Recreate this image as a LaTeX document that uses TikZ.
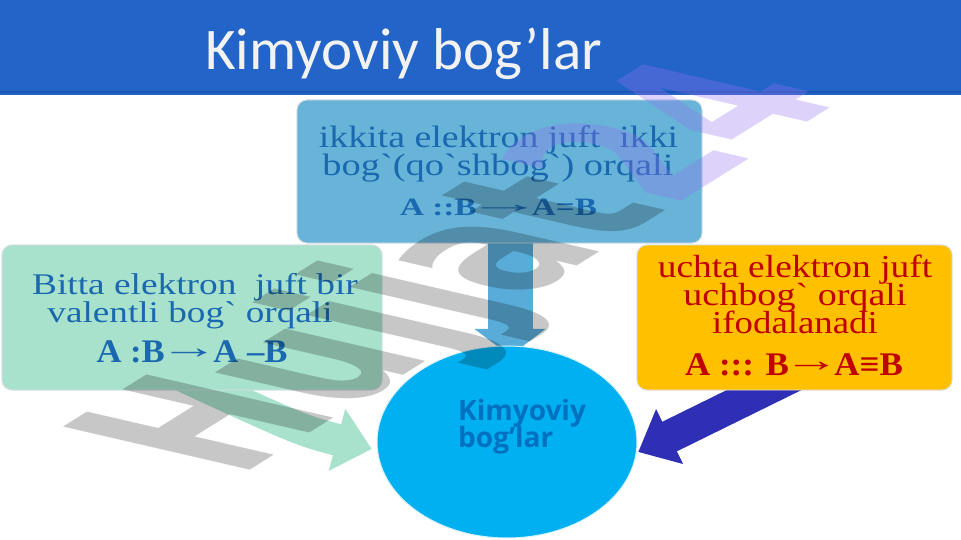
\documentclass[tikz,border=0pt]{standalone}
\usepackage{fontspec}
\usepackage{graphicx}
\usetikzlibrary{arrows.meta,shapes.geometric}
\newfontfamily\serif{Liberation Serif}
\newfontfamily\titlefont{Carlito}
\newfontfamily\osans{Open Sans}
\newfontfamily\wmfont{DejaVu Sans}
\newcommand\rarr[2]{\kern-#2em\raisebox{0.1em}{\scalebox{#1}[1]{→}}\kern-#2em}
\definecolor{hdr}{HTML}{2264C8}
\definecolor{hdrline}{HTML}{1B56B2}
\definecolor{titletext}{HTML}{F2F2F2}
\definecolor{topfill}{HTML}{68B4D8}
\definecolor{leftfill}{HTML}{A8E2CD}
\definecolor{rightfill}{HTML}{FFC000}
\definecolor{circfill}{HTML}{00B0F0}
\definecolor{arrblue}{HTML}{5AACD8}
\definecolor{arrgreen}{HTML}{A8E2CD}
\definecolor{arrdark}{HTML}{2F2FB5}
\definecolor{txtblue}{HTML}{1A68B0}
\definecolor{txtred}{HTML}{C00000}
\definecolor{circtext}{HTML}{0070C0}
\definecolor{boxedge}{HTML}{D8DEE4}
\definecolor{wmpurple}{HTML}{9272EF}
\tikzset{
  box/.style={rectangle, rounded corners=10pt, draw=boxedge, line width=0.8pt, inner sep=0pt},
  line/.style={anchor=base, inner sep=0pt},
  wm/.style={anchor=base west, inner sep=0pt, transform shape, font=\wmfont\bfseries\fontsize{186}{186}\selectfont}
}
\begin{document}
\begin{tikzpicture}[x=1pt,y=-1pt]
\useasboundingbox (0,0) rectangle (961,540);
% header
\fill[hdr] (0,0) rectangle (961,95);
\node[anchor=base west, inner sep=0pt, font=\titlefont\fontsize{59}{59}\selectfont, text=titletext] (title) at (205,70) {Kimyoviy bog’lar};
\coordinate (hl) at (0,92);
\coordinate (hr) at (961,92);
\draw[hdrline, line width=1.2pt] (hl) -- (hr);

% shape positions
\path (499.5,171.5) node[box, minimum width=405pt, minimum height=143pt] (top) {};
\path (192,317.5) node[box, minimum width=380pt, minimum height=145pt] (lbox) {};
\path (794.5,317.5) node[box, minimum width=315pt, minimum height=145pt] (rbox) {};
\path (507,442) node[ellipse, minimum width=260pt, minimum height=192pt, inner sep=0pt] (circ) {};

% arrows
\draw[line width=45pt, draw=arrblue, -{Triangle[width=70pt,length=27pt]}]
  ([xshift=10.5pt]top.south) -- ([xshift=3pt,yshift=-10pt]circ.north);
\draw[line width=32pt, draw=arrgreen, -{Triangle[width=62pt,length=36pt]}]
  ([xshift=-17pt,yshift=18pt]lbox.south) .. controls (300,430) .. ([xshift=-5pt,yshift=-7pt]circ.west);
\draw[line width=33pt, draw=arrdark, -{Triangle[width=59pt,length=35pt]}]
  ([xshift=5.5pt,yshift=18pt]rbox.south) -- ([xshift=1pt,yshift=-10pt]circ.east);

% boxes
\node[box, fill=topfill, minimum width=405pt, minimum height=143pt] at (top) {};
\node[box, fill=leftfill, minimum width=380pt, minimum height=145pt] at (lbox) {};
\node[box, fill=rightfill, minimum width=315pt, minimum height=145pt] at (rbox) {};
\node[ellipse, fill=circfill, draw=cyan!15, line width=1pt, minimum width=260pt, minimum height=192pt, inner sep=0pt] at (circ) {};

% top box text
\begin{scope}[every node/.style={line, text=txtblue}]
\node[font=\serif\fontsize{31}{31}\selectfont] (t1) at (498.5,148) {\scalebox{1.22}[1]{ikkita elektron juft\ \ ikki}};
\node[font=\serif\fontsize{31}{31}\selectfont] (t2) at (498,176) {\scalebox{1.24}[1]{bog`(qo`shbog`) orqali}};
\node[font=\serif\bfseries\fontsize{25}{25}\selectfont] (t3) at (498.5,215) {\scalebox{1.33}[1]{A ::B\rarr{2.3}{0.32}A=B}};
% left box text
\node[font=\serif\fontsize{30}{30}\selectfont] (l1) at (195,294) {\scalebox{1.245}[1]{Bitta elektron\ \ juft bir}};
\node[font=\serif\fontsize{30}{30}\selectfont] (l2) at (190,322) {\scalebox{1.24}[1]{valentli bog` orqali}};
\node[font=\serif\bfseries\fontsize{33}{33}\selectfont] (l3) at (192,362) {\scalebox{1.05}[1]{A :B\rarr{1.7}{0.15}A –B}};
\end{scope}
% right box text
\begin{scope}[every node/.style={line, text=txtred}]
\node[font=\serif\fontsize{32}{32}\selectfont] (r1) at (795,277) {\scalebox{1.17}[1]{uchta elektron juft}};
\node[font=\serif\fontsize{32}{32}\selectfont] (r2) at (795,305) {\scalebox{1.19}[1]{uchbog` orqali}};
\node[font=\serif\fontsize{32}{32}\selectfont] (r3) at (795,333) {\scalebox{1.15}[1]{ifodalanadi}};
\node[font=\serif\bfseries\fontsize{33}{33}\selectfont] (r4) at (794,375) {\scalebox{1.06}[1]{A ::: B\rarr{1.6}{0.15}A≡B}};
\end{scope}
% circle text
\node[anchor=base west, inner sep=0pt, text=circtext, font=\osans\bfseries\fontsize{28}{28}\selectfont] (c1) at (458,420) {Kimyoviy};
\node[anchor=base west, inner sep=0pt, text=circtext, font=\osans\bfseries\fontsize{28}{28}\selectfont] (c2) at (458,447) {bog’lar};

% watermark
\begin{scope}[shift={(238,478)}, rotate=32, xslant=-1, xscale=0.81]
\node[wm, text=black, text opacity=0.22] (wm1) at (0,0) {Hujjat};
\node[wm, text=wmpurple, text opacity=0.32] (wm2) at (wm1.base east) {24};
\end{scope}
\end{tikzpicture}
\end{document}
